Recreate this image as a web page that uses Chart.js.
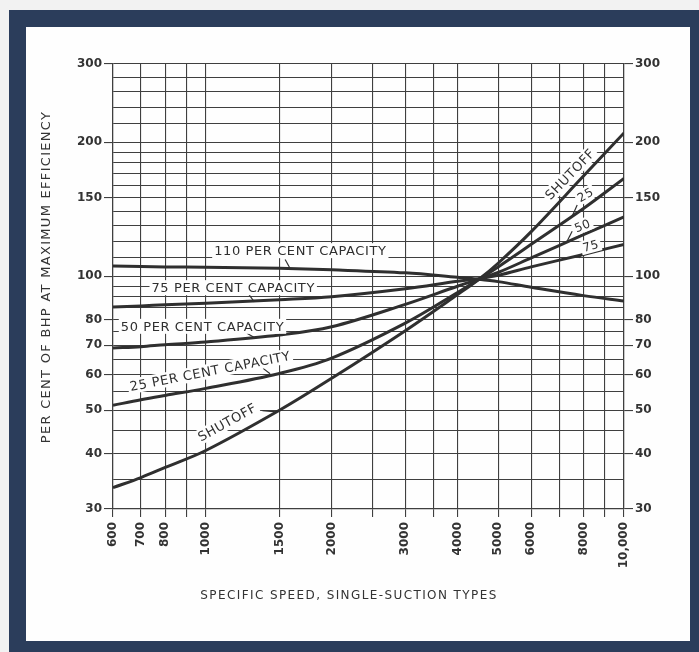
<!DOCTYPE html>
<html>
<head>
<meta charset="utf-8">
<title>BHP vs specific speed</title>
<script src="https://cdn.jsdelivr.net/npm/chart.js@4.4.1/dist/chart.umd.min.js"></script>
<style>
    html, body { margin: 0; padding: 0; background: #f2f2f2; }
    #frame { position: absolute; left: 9px; top: 10px; width: 690px; height: 642px; background: #2b3d5b; }
    #paper { position: absolute; left: 26px; top: 27px; width: 664px; height: 614px; background: #fefefe; }
    #bhpChart { position: absolute; left: 0; top: 0; }
</style>
</head>
<body>
<div id="frame"></div>
<div id="paper"></div>
<canvas id="bhpChart" width="699" height="652"></canvas>
<script>
// Specific speed (x) and per cent of BHP at max efficiency (y)
const speeds = [600, 700, 800, 1000, 1500, 2000, 3000, 4000, 4500, 5000, 6000, 8000, 10000];
const shutoff = [33.5, 35.3, 37.2, 40.6, 50, 59, 75.5, 91, 98.5, 107, 126, 168, 210];
const cap25 = [51.3, 52.8, 54, 56, 60.5, 65.5, 78.5, 92, 98.5, 105, 118, 142, 166];
const cap50 = [69, 69.5, 70.2, 71.2, 73.8, 77, 86.5, 95, 98.5, 102, 110, 124, 136];
const cap75 = [85.3, 85.8, 86.3, 87, 88.6, 90, 93.8, 97.5, 98.8, 100.5, 105, 112, 118];
const cap110 = [105.5, 105.2, 105, 104.8, 104.2, 103.4, 101.8, 99.5, 98.5, 97.3, 94.5, 90.5, 88];

// grid lines and the ones that carry a label
const xGrid = [600, 700, 800, 900, 1000, 1500, 2000, 2500, 3000, 3500, 4000, 5000, 6000, 7000, 8000, 9000, 10000];
const xLabels = [600, 700, 800, 1000, 1500, 2000, 3000, 4000, 5000, 6000, 8000, 10000];
const yGrid = [30, 35, 40, 45, 50, 55, 60, 65, 70, 75, 80, 85, 90, 95, 100, 110, 120, 130, 140, 150,
    160, 170, 180, 190, 200, 220, 240, 260, 280, 300];
const yLabels = [30, 40, 50, 60, 70, 80, 100, 150, 200, 300];

// curve captions, placed in data units
const notes = [
    { text: '110 PER CENT CAPACITY', x: 1683, y: 114.2, angle: 0, size: 13 },
    { text: '75 PER CENT CAPACITY', x: 1163, y: 94.3, angle: 0, size: 13 },
    { text: '50 PER CENT CAPACITY', x: 982, y: 77.2, angle: 0, size: 13 },
    { text: '25 PER CENT CAPACITY', x: 1024, y: 61.2, angle: -11, size: 13 },
    { text: 'SHUTOFF', x: 1125, y: 47.0, angle: -29, size: 13 },
    { text: 'SHUTOFF', x: 7426, y: 169.6, angle: -46, size: 13 },
    { text: '25', x: 8085, y: 152.5, angle: -30, size: 12 },
    { text: '50', x: 7956, y: 130, angle: -22, size: 12 },
    { text: '75', x: 8328, y: 117.1, angle: -15, size: 12 }
];
const leaders = [
    [1548, 109.1, 1591, 104.1],
    [1270, 90.8, 1306, 87.6],
    [1254, 74.5, 1313, 72.7],
    [1371, 62.1, 1425, 60.4],
    [1366, 49.9, 1474, 49.6],
    [7728, 144.6, 7518, 136.4],
    [7518, 126.2, 7314, 120],
    [8026, 113.6, 7797, 110]
];

const ink = '#2f2f2f';
const gridInk = '#3f3f3f';

function toPoints(values) {
    return speeds.map((s, i) => ({ x: s, y: values[i] }));
}

function curve(label, values) {
    return {
        label: label,
        data: toPoints(values),
        borderColor: ink,
        borderWidth: 3,
        pointRadius: 0,
        tension: 0.35,
        fill: false,
        yAxisID: 'y'
    };
}

const captionPlugin = {
    id: 'captions',
    afterDatasetsDraw(chart) {
        const ctx = chart.ctx;
        const xs = chart.scales.x;
        const ys = chart.scales.y;
        const area = chart.chartArea;
        ctx.save();
        ctx.strokeStyle = ink;
        ctx.lineWidth = 1.2;
        leaders.forEach(l => {
            ctx.beginPath();
            ctx.moveTo(xs.getPixelForValue(l[0]), ys.getPixelForValue(l[1]));
            ctx.lineTo(xs.getPixelForValue(l[2]), ys.getPixelForValue(l[3]));
            ctx.stroke();
        });
        ctx.textAlign = 'center';
        ctx.textBaseline = 'middle';
        notes.forEach(n => {
            const px = xs.getPixelForValue(n.x);
            const py = ys.getPixelForValue(n.y);
            ctx.save();
            ctx.translate(px, py);
            ctx.rotate(n.angle * Math.PI / 180);
            ctx.font = n.size + 'px "DejaVu Sans"';
            ctx.letterSpacing = '0.6px';
            // white backing so grid lines do not cross the lettering
            const tw = ctx.measureText(n.text).width;
            ctx.fillStyle = '#fefefe';
            ctx.fillRect(-tw / 2 - 2, -n.size / 2 - 1, tw + 4, n.size + 2);
            ctx.fillStyle = ink;
            ctx.fillText(n.text, 0, 1);
            ctx.restore();
        });

        // axis titles
        ctx.fillStyle = '#333';
        ctx.font = '12px "DejaVu Sans"';
        ctx.letterSpacing = '1.4px';
        ctx.fillText('SPECIFIC SPEED, SINGLE-SUCTION TYPES', area.left + 236, area.bottom + 87);
        ctx.save();
        ctx.translate(area.left - 66, area.top + 213);
        ctx.rotate(-Math.PI / 2);
        ctx.font = '13px "DejaVu Sans"';
        ctx.letterSpacing = '1.3px';
        ctx.fillText('PER CENT OF BHP AT MAXIMUM EFFICIENCY', 0, 0);
        ctx.restore();
        ctx.restore();
    }
};

const tickFont = { family: 'DejaVu Sans', size: 12, weight: 'bold' };

function yAxis(position, width, onArea) {
    return {
        type: 'logarithmic',
        position: position,
        min: 30,
        max: 300,
        afterBuildTicks: scale => { scale.ticks = yGrid.map(v => ({ value: v })); },
        afterFit: scale => { scale.width = width; },
        grid: {
            color: gridInk,
            lineWidth: 1.1,
            drawOnChartArea: onArea,
            tickLength: 9,
            tickColor: c => (c.tick && yLabels.includes(c.tick.value)) ? gridInk : 'rgba(0,0,0,0)'
        },
        border: { color: gridInk, width: 1.2 },
        ticks: {
            autoSkip: false,
            color: '#333',
            font: tickFont,
            padding: 2,
            callback: v => yLabels.includes(v) ? String(v) : ''
        }
    };
}

new Chart(document.getElementById('bhpChart'), {
    type: 'line',
    data: {
        datasets: [
            curve('110 per cent capacity', cap110),
            curve('75 per cent capacity', cap75),
            curve('50 per cent capacity', cap50),
            curve('25 per cent capacity', cap25),
            curve('Shutoff', shutoff)
        ]
    },
    options: {
        responsive: false,
        devicePixelRatio: 1,
        animation: false,
        layout: { padding: { top: 64, left: 0, right: 0, bottom: 0 } },
        plugins: {
            legend: { display: false },
            tooltip: { enabled: false }
        },
        scales: {
            x: {
                type: 'logarithmic',
                min: 600,
                max: 10000,
                afterBuildTicks: scale => { scale.ticks = xGrid.map(v => ({ value: v })); },
                afterFit: scale => { scale.height = 143; },
                grid: { color: gridInk, lineWidth: 1.1, tickLength: 8, tickColor: gridInk },
                border: { color: gridInk, width: 1.2 },
                ticks: {
                    autoSkip: false,
                    minRotation: 90,
                    maxRotation: 90,
                    color: '#333',
                    font: tickFont,
                    padding: 5,
                    callback: v => xLabels.includes(v) ? (v === 10000 ? '10,000' : String(v)) : ''
                }
            },
            y: yAxis('left', 113, true),
            y2: yAxis('right', 75, false)
        }
    },
    plugins: [captionPlugin]
});
</script>
</body>
</html>
